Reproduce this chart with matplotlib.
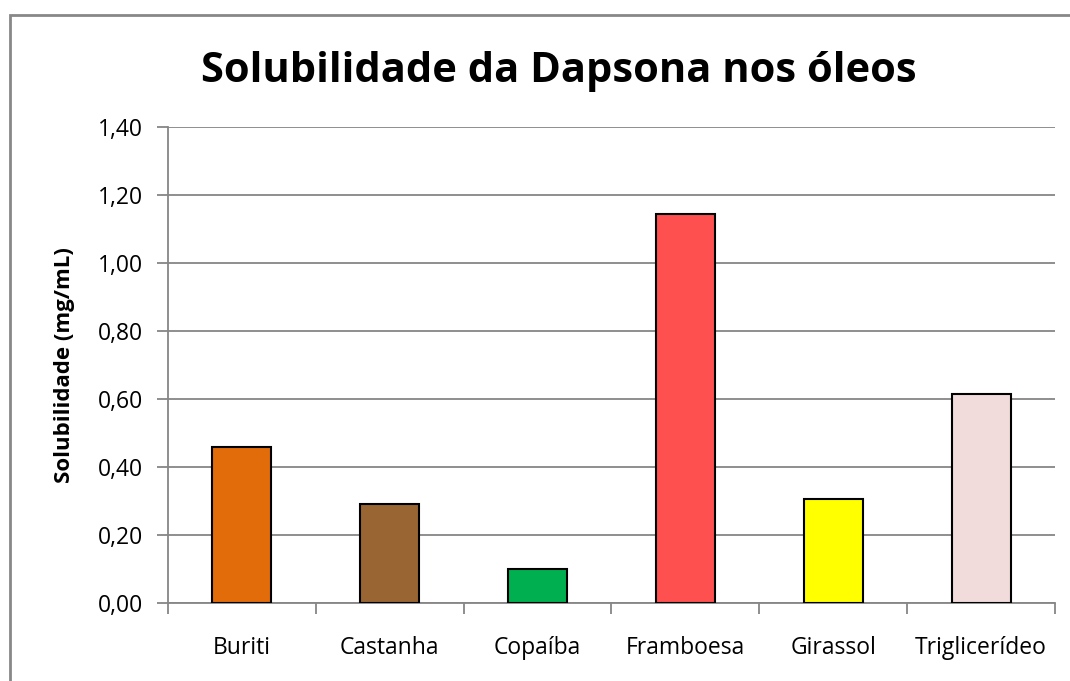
import matplotlib.pyplot as plt
import matplotlib.patches as patches
from matplotlib.ticker import FuncFormatter, FixedLocator, NullFormatter

oleos = ['Buriti', 'Castanha', 'Copaíba', 'Framboesa', 'Girassol', 'Triglicerídeo']
solubilidade = [0.46, 0.29, 0.10, 1.145, 0.305, 0.615]
cores = ['#E36C0A', '#996633', '#00B050', '#FF5050', '#FFFF00', '#F2DCDB']
yticks = [0.0, 0.2, 0.4, 0.6, 0.8, 1.0, 1.2, 1.4]

plt.rcParams['font.family'] = ['Open Sans', 'DejaVu Sans']

fig = plt.figure(figsize=(10.7, 6.81), dpi=100)
fig.patch.set_facecolor('white')
ax = fig.add_axes([168/1070, 78/681, 887/1070, 476/681])

x = list(range(len(oleos)))
ax.bar(x, solubilidade, width=0.4, color=cores, edgecolor='black', linewidth=1.5, zorder=3)

ax.set_xlim(-0.5, len(oleos) - 0.5)
ax.set_ylim(0, 1.4)
ax.set_yticks(yticks)
ax.yaxis.set_major_formatter(FuncFormatter(lambda v, p: ('%.2f' % v).replace('.', ',')))
ax.grid(axis='y', color='#868686', linewidth=1.3, zorder=0)

# category labels centred, tick marks on the boundaries
ax.set_xticks(x)
ax.set_xticklabels(oleos)
ax.tick_params(axis='x', which='major', length=0, pad=24, labelsize=16.5)
ax.xaxis.set_minor_locator(FixedLocator([i - 0.5 for i in range(len(oleos) + 1)]))
ax.xaxis.set_minor_formatter(NullFormatter())
ax.tick_params(axis='x', which='minor', length=8, width=1.3, color='#868686')
ax.tick_params(axis='y', length=8, width=1.3, color='#868686', labelsize=16.5, pad=10)

for s in ['top', 'right']:
    ax.spines[s].set_visible(False)
for s in ['left', 'bottom']:
    ax.spines[s].set_color('#868686')
    ax.spines[s].set_linewidth(1.3)

ax.set_ylabel('Solubilidade (mg/mL)', fontsize=16, fontweight='bold')
ax.yaxis.set_label_coords(-93/887, 0.5)
fig.text(559/1070, 1 - 72/681, 'Solubilidade da Dapsona nos óleos', ha='center', va='center',
         fontsize=30, fontweight='bold')

# outer chart frame
fig.patches.append(patches.Rectangle((9.5/1070, -0.1), 1.2, 1.1 - 14.5/681, transform=fig.transFigure,
                                     fill=False, edgecolor='#888888', linewidth=2))

fig.savefig('out.png', dpi=100)
